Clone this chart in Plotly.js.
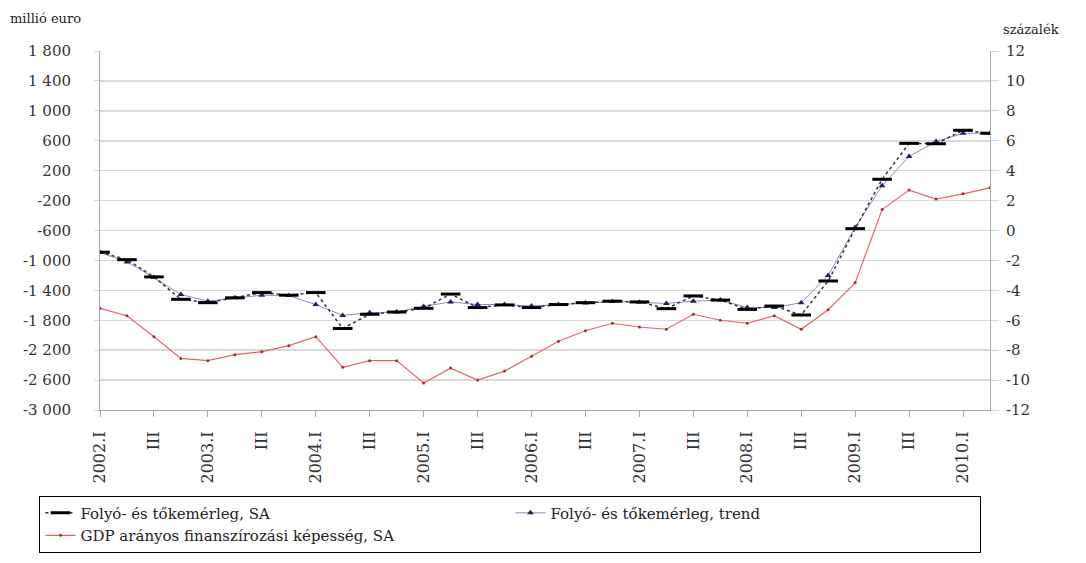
<!DOCTYPE html>
<html>
<head>
<meta charset="utf-8">
<script src="https://cdn.plot.ly/plotly-3.0.1.min.js"></script>
<style>html,body{margin:0;padding:0;background:#fff;}#chart{width:1086px;height:563px;}</style>
</head>
<body>
<div id="chart"></div>
<script>
// Quarters 2002.I – 2010.II
const years = [2002,2003,2004,2005,2006,2007,2008,2009,2010];
const romans = ["I","II","III","IV"];
const quarters = [];
years.forEach(y => romans.forEach(q => { if (!(y === 2010 && (q === "III" || q === "IV"))) quarters.push(y + "." + q); }));

// Folyó- és tőkemérleg, SA (millió euro)
const saValues = [-890,-990,-1220,-1520,-1565,-1500,-1430,-1465,-1430,-1910,
                  -1720,-1690,-1640,-1450,-1630,-1595,-1630,-1590,-1565,-1545,
                  -1555,-1645,-1475,-1530,-1655,-1610,-1730,-1275,-575,85,
                  565,560,740,700];
// Folyó- és tőkemérleg, trend (millió euro)
const trendValues = [-895,-1020,-1230,-1455,-1545,-1500,-1465,-1470,-1590,-1735,
                     -1700,-1690,-1615,-1555,-1590,-1590,-1610,-1590,-1570,-1550,
                     -1560,-1575,-1545,-1530,-1630,-1630,-1565,-1200,-560,0,
                     390,590,700,700];
// GDP arányos finanszírozási képesség, SA (százalék)
const gdpValues = [-5.2,-5.7,-7.1,-8.55,-8.7,-8.3,-8.1,-7.7,-7.1,-9.15,
                   -8.7,-8.7,-10.2,-9.2,-10.0,-9.4,-8.4,-7.4,-6.7,-6.2,
                   -6.45,-6.6,-5.6,-6.0,-6.2,-5.7,-6.6,-5.3,-3.5,1.4,
                   2.7,2.1,2.45,2.85];

const leftTicks = [1800,1400,1000,600,200,-200,-600,-1000,-1400,-1800,-2200,-2600,-3000];
const leftTickText = ["1 800","1 400","1 000","600","200","-200","-600","-1 000","-1 400","-1 800","-2 200","-2 600","-3 000"];
const rightTicks = [12,10,8,6,4,2,0,-2,-4,-6,-8,-10,-12];
const rightTickText = ["12","10","8","6","4","2","0","-2","-4","-6","-8","-10","-12"];

const xTickVals = quarters.filter(q => q.endsWith(".I") || q.endsWith(".III"));
const xTickText = xTickVals.map(q => q.endsWith(".III") ? "III" : q);

const FONT = "DejaVu Serif, Liberation Serif, serif";

const traces = [
  {
    x: quarters, y: trendValues, name: "Folyó- és tőkemérleg, trend", type: "scatter", mode: "lines+markers",
    line: {color: "#7f8fc4", width: 1}, marker: {symbol: "triangle-up", size: 6, color: "#1c2260"},
    legendrank: 2
  },
  {
    x: quarters, y: saValues, name: "Folyó- és tőkemérleg, SA", type: "scatter", mode: "lines+markers",
    line: {color: "#333333", width: 1.5, dash: "dot"},
    marker: {symbol: "line-ew", size: 14, color: "#000", line: {color: "#000", width: 3}},
    legendrank: 1
  },
  {
    x: quarters, y: gdpValues, name: "GDP arányos finanszírozási képesség, SA", type: "scatter", mode: "lines+markers",
    yaxis: "y2",
    line: {color: "#e8606a", width: 1.2}, marker: {symbol: "circle", size: 3, color: "#b02828"},
    legendrank: 3
  }
];

const layout = {
  width: 1086, height: 563,
  margin: {l: 100, r: 96, t: 51, b: 152},
  paper_bgcolor: "#fff", plot_bgcolor: "#fff",
  font: {family: FONT, size: 14, color: "#333"},
  showlegend: true,
  xaxis: {
    type: "category", categoryorder: "array", categoryarray: quarters,
    range: [0, quarters.length - 1],
    tickmode: "array", tickvals: xTickVals, ticktext: xTickText,
    tickangle: -90, ticks: "outside", ticklen: 6, tickcolor: "#aaa", ticklabelstandoff: 8,
    showgrid: false, showline: true, linecolor: "#aaa", linewidth: 1,
    tickfont: {family: FONT, size: 16, color: "#333"}, zeroline: false
  },
  yaxis: {
    range: [-3000, 1800], tickmode: "array", tickvals: leftTicks, ticktext: leftTickText,
    showgrid: true, gridcolor: "#d9d9d9", gridwidth: 1.5, zeroline: false,
    showline: true, linecolor: "#aaa", linewidth: 1,
    ticks: "outside", ticklen: 5, tickcolor: "#d9d9d9", ticklabelstandoff: 20,
    tickfont: {family: FONT, size: 15, color: "#333"}
  },
  yaxis2: {
    overlaying: "y", side: "right",
    range: [-12, 12], tickmode: "array", tickvals: rightTicks, ticktext: rightTickText,
    showgrid: false, zeroline: false, showline: true, linecolor: "#aaa", linewidth: 1,
    ticks: "outside", ticklen: 8, tickcolor: "#d9d9d9", ticklabelstandoff: 4,
    tickfont: {family: FONT, size: 15, color: "#333"}
  },
  legend: {
    orientation: "h", x: -0.068, xanchor: "left", y: -0.235, yanchor: "top",
    bordercolor: "#000", borderwidth: 1, bgcolor: "#fff",
    entrywidth: 425, entrywidthmode: "pixels",
    font: {family: FONT, size: 15, color: "#222"}, traceorder: "normal",
    itemwidth: 30, tracegroupgap: 0
  },
  annotations: [
    {text: "millió euro", xref: "paper", yref: "paper", x: -0.103, y: 1.09, xanchor: "left", yanchor: "middle",
     showarrow: false, font: {family: FONT, size: 13, color: "#222"}},
    {text: "százalék", xref: "paper", yref: "paper", x: 1.012, y: 1.06, xanchor: "left", yanchor: "middle",
     showarrow: false, font: {family: FONT, size: 13, color: "#222"}}
  ]
};

Plotly.newPlot("chart", traces, layout, {staticPlot: true, displayModeBar: false});
</script>
</body>
</html>
